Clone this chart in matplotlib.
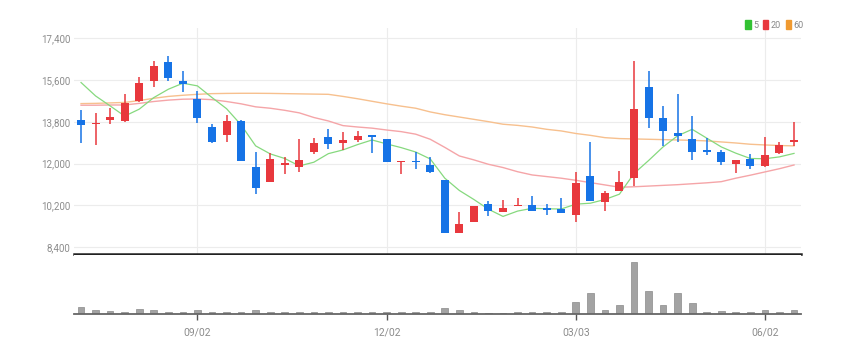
import numpy as np
import matplotlib
matplotlib.use("Agg")
import matplotlib.pyplot as plt
from matplotlib.patches import Patch

plt.rcParams['font.family'] = ['Liberation Sans Narrow', 'Roboto', 'DejaVu Sans']

# daily candles (50 sessions)
opens  = [13900, 13700, 13900, 13850, 14700, 15550, 16400, 15550, 14800, 13600,
          13250, 13850, 11850, 11200, 11950, 11850, 12500, 13150, 12900, 13000,
          13200, 13050, 12050, 12100, 11950, 11300,  9000,  9500, 10250,  9900,
          10150, 10200, 10050, 10050,  9800, 11450, 10350, 10800, 11400, 15300,
          13950, 13300, 13050, 12600, 12500, 12000, 12200, 11900, 12450, 12950]
highs  = [14300, 14200, 14400, 15000, 15750, 16450, 16650, 16000, 15150, 13700,
          14100, 13900, 12500, 12450, 12300, 13050, 13100, 13500, 13350, 13400,
          13200, 13050, 12100, 12500, 12300, 11300,  9900, 10150, 10400, 10450,
          10500, 10600, 10250, 10500, 11650, 12950, 10800, 11700, 16450, 16000,
          14500, 15000, 14050, 13100, 12600, 12150, 12400, 13150, 12950, 13800]
lows   = [12900, 12800, 13700, 13800, 14650, 15300, 15550, 15100, 13750, 12900,
          12950, 12100, 10700, 11200, 11550, 11650, 12400, 12650, 12600, 12950,
          12450, 12050, 11550, 11750, 11600,  9000,  9000,  9500,  9750,  9900,
          10150,  9950,  9800,  9850,  9500, 10400,  9950, 10800, 11050, 13550,
          12750, 12950, 12150, 12350, 11950, 11600, 11750, 11850, 12400, 12750]
closes = [13650, 13750, 14000, 14600, 15500, 16200, 15700, 15450, 13950, 12950,
          13850, 12100, 10950, 12200, 12000, 12150, 12900, 12850, 13000, 13200,
          13150, 12050, 12100, 12050, 11650,  9000,  9400, 10150,  9950, 10100,
          10200,  9950, 10000,  9850, 11150, 10400, 10750, 11200, 14350, 13950,
          13400, 13200, 12500, 12500, 12050, 12150, 11900, 12350, 12800, 13000]
volumes = [73, 40, 33, 20, 53, 40, 23, 20, 40, 20, 20, 20, 40, 23, 17, 20, 17, 20, 23, 23,
           20, 17, 17, 17, 17, 57, 40, 20, 13, 13, 20, 20, 20, 20, 123, 207, 40, 90, 523, 233,
           90, 213, 107, 20, 27, 23, 23, 40, 23, 40]

# moving averages as drawn
ma5  = [15500, 14920, 14490, 14050, 14350, 14850, 15210, 15470, 15355, 14850,
        14370, 13670, 12765, 12420, 12220, 11900, 12060, 12430, 12590, 12820,
        13020, 12850, 12690, 12500, 12200, 11370, 10840, 10450, 10030,  9720,
         9950, 10070, 10050, 10040, 10250, 10290, 10450, 10680, 11570, 12130,
        12720, 13200, 13480, 13100, 12720, 12450, 12220, 12210, 12290, 12440]
ma20 = [14520, 14520, 14530, 14530, 14600, 14680, 14740, 14780, 14790, 14760,
        14680, 14580, 14450, 14390, 14300, 14190, 13990, 13840, 13640, 13580,
        13530, 13450, 13380, 13270, 13050, 12700, 12330, 12160, 11970, 11830,
        11650, 11510, 11440, 11370, 11280, 11180, 11080, 10980, 11000, 11030,
        11060, 11090, 11130, 11170, 11220, 11370, 11500, 11640, 11780, 11940]
ma60 = [14590, 14600, 14620, 14640, 14720, 14820, 14900, 14950, 14990, 15020,
        15030, 15035, 15035, 15030, 15020, 15010, 15000, 14990, 14900, 14800,
        14690, 14580, 14480, 14390, 14230, 14110, 14010, 13910, 13810, 13700,
        13650, 13580, 13480, 13410, 13300, 13220, 13120, 13080, 13065, 13050,
        13035, 13020, 13005, 12980, 12935, 12890, 12835, 12805, 12780, 12765]

tick_idx = [8, 21, 34, 47]
tick_labels = ['09/02', '12/02', '03/03', '06/02']
price_ticks = [8400, 10200, 12000, 13800, 15600, 17400]

UP = '#e8383d'
DOWN = '#1673e6'

W, H = 853, 353
fig = plt.figure(figsize=(W / 100, H / 100), dpi=100)
ax = fig.add_axes([74.5 / W, (H - 254) / H, (801 - 74.5) / W, 226 / H])
axv = fig.add_axes([74.5 / W, (H - 314) / H, (801 - 74.5) / W, 59 / H], sharex=ax)

x = np.arange(len(closes))
o = np.array(opens); c = np.array(closes)
cols = [UP if cc >= oo else DOWN for oo, cc in zip(opens, closes)]

# price panel
ax.plot(x, ma60, color='#f7c08e', lw=1.0, zorder=2)
ax.plot(x, ma20, color='#f5a5a8', lw=1.0, zorder=2)
ax.plot(x, ma5, color='#86d97e', lw=0.9, zorder=2)
ax.vlines(x, lows, highs, colors=cols, lw=1.1, zorder=3)
body_lo = np.minimum(o, c)
body_h = np.maximum(np.abs(c - o), 70)
ax.bar(x, body_h, bottom=body_lo, width=0.55, color=cols, zorder=4)

ax.set_xlim(-0.45, 49.48)
ax.set_ylim(8098, 17853)
ax.set_yticks(price_ticks)
ax.set_yticklabels([f'{v:,}' for v in price_ticks])
ax.tick_params(axis='y', length=0, pad=3, labelsize=7, labelcolor='#8c8c8c')
ax.tick_params(axis='x', length=0, labelbottom=False)
ax.set_xticks(tick_idx)
ax.grid(True, color='#ececec', lw=0.8)
ax.set_axisbelow(True)
for s in ['top', 'right', 'left']:
    ax.spines[s].set_visible(False)
ax.spines['bottom'].set_color('#222222')
ax.spines['bottom'].set_linewidth(1.8)

# volume panel
axv.bar(x, volumes, width=0.46, color='#a3a3a3', edgecolor='#8a8a8a', lw=0.5)
axv.set_ylim(0, 590)
axv.set_yticks([])
axv.set_xticks(tick_idx)
axv.set_xticklabels(tick_labels)
axv.tick_params(axis='x', length=4, width=1, color='#555555', pad=6,
                labelsize=7.5, labelcolor='#8c8c8c')
for s in ['top', 'right', 'left']:
    axv.spines[s].set_visible(False)
axv.spines['bottom'].set_color('#666666')
axv.spines['bottom'].set_linewidth(1.3)

# legend
handles = [Patch(color='#33c233', label='5'),
           Patch(color='#e8383d', label='20'),
           Patch(color='#f09a30', label='60')]
fig.legend(handles=handles, loc='center right', bbox_to_anchor=(804 / W, 1 - 25 / H),
           ncol=3, frameon=False, fontsize=6.5, labelcolor='#888888',
           handlelength=0.6, handleheight=1.0, handletextpad=0.3,
           columnspacing=0.5, borderpad=0, borderaxespad=0)

fig.savefig('out.png', dpi=100)
